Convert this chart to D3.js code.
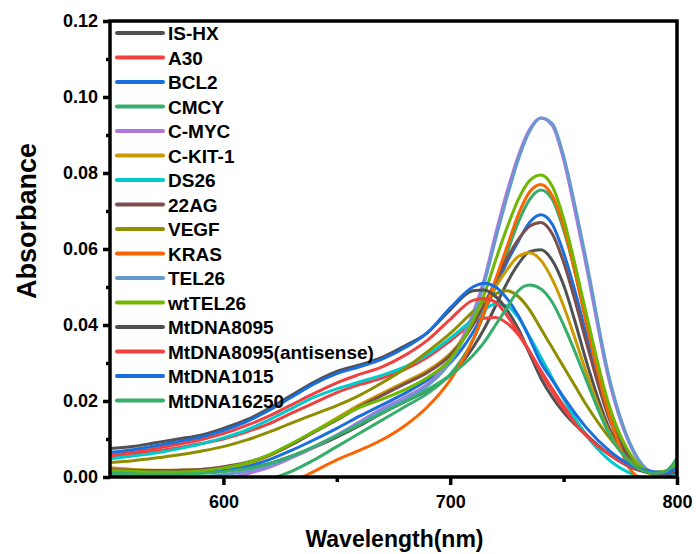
<!DOCTYPE html>
<html>
<head>
<meta charset="utf-8">
<script src="https://cdn.jsdelivr.net/npm/d3@7"></script>
<style>
  html, body { margin: 0; padding: 0; background: #fff; }
  svg { display: block; font-family: "Liberation Sans", Arial, sans-serif; font-weight: bold; }
</style>
</head>
<body>
<svg id="chart" width="696" height="554"></svg>
<script>
// ---- data ----
const wavelengths = [550,560,570,580,590,600,610,620,630,640,650,660,670,680,690,700,710,715,720,725,730,735,740,745,750,755,760,770,780,790,795,800];

const seriesNames = ["IS-HX","A30","BCL2","CMCY","C-MYC","C-KIT-1","DS26","22AG","VEGF","KRAS","TEL26","wtTEL26","MtDNA8095","MtDNA8095(antisense)","MtDNA1015","MtDNA16250"];

const IS_HX   = [.0020,.0015,.0012,.0011,.0012,.0016,.0023,.0035,.0055,.0078,.0105,.0135,.0168,.0198,.0228,.0268,.0340,.0390,.0450,.0510,.0560,.0593,.0598,.0570,.0505,.0410,.0305,.0130,.0040,.0010,.0010,.0022];
const A30     = [.0055,.0060,.0068,.0077,.0088,.0100,.0118,.0140,.0168,.0195,.0222,.0243,.0260,.0283,.0315,.0358,.0405,.0418,.0420,.0405,.0375,.0330,.0280,.0232,.0188,.0148,.0112,.0060,.0028,.0012,.0010,.0020];
const BCL2    = [.0015,.0012,.0010,.0010,.0012,.0018,.0028,.0045,.0070,.0098,.0128,.0160,.0190,.0220,.0255,.0300,.0380,.0435,.0500,.0565,.0620,.0670,.0690,.0665,.0590,.0490,.0375,.0165,.0050,.0012,.0015,.0040];
const CMCY    = [-.0060,-.0055,-.0050,-.0045,-.0040,-.0030,-.0020,-.0006,.0015,.0045,.0080,.0115,.0150,.0185,.0220,.0270,.0360,.0430,.0510,.0590,.0670,.0730,.0755,.0730,.0650,.0540,.0410,.0180,.0050,.0010,.0015,.0040];
const C_MYC   = [-.0040,-.0035,-.0030,-.0025,-.0015,-.0005,.0008,.0025,.0050,.0078,.0110,.0145,.0180,.0210,.0245,.0310,.0430,.0520,.0640,.0750,.0845,.0915,.0945,.0925,.0835,.0700,.0555,.0255,.0075,.0012,.0015,.0040];
const C_KIT_1 = [.0025,.0020,.0018,.0018,.0020,.0025,.0035,.0055,.0085,.0120,.0155,.0190,.0220,.0250,.0280,.0325,.0400,.0450,.0500,.0545,.0580,.0590,.0570,.0520,.0450,.0365,.0275,.0120,.0035,.0008,.0010,.0030];
const DS26    = [.0048,.0055,.0063,.0074,.0087,.0103,.0123,.0150,.0180,.0210,.0232,.0250,.0268,.0290,.0322,.0365,.0415,.0440,.0455,.0450,.0420,.0370,.0315,.0260,.0205,.0155,.0110,.0045,.0008,-.0010,-.0005,.0010];
const AG22    = [.0020,.0018,.0017,.0018,.0020,.0027,.0038,.0057,.0085,.0118,.0150,.0185,.0215,.0245,.0275,.0320,.0400,.0455,.0515,.0575,.0625,.0660,.0670,.0640,.0565,.0465,.0355,.0155,.0045,.0010,.0012,.0035];
const VEGF    = [.0038,.0043,.0050,.0058,.0068,.0080,.0097,.0118,.0142,.0165,.0188,.0215,.0248,.0285,.0330,.0378,.0435,.0462,.0482,.0490,.0475,.0440,.0390,.0340,.0290,.0240,.0190,.0105,.0040,.0012,.0010,.0020];
const KRAS    = [-.0120,-.0110,-.0100,-.0090,-.0075,-.0060,-.0045,-.0030,-.0013,.0015,.0045,.0070,.0098,.0135,.0185,.0255,.0360,.0435,.0520,.0605,.0690,.0750,.0770,.0740,.0660,.0540,.0405,.0165,.0015,-.0020,-.0020,-.0010];
const TEL26   = [.0005,.0000,-.0003,-.0003,.0000,.0006,.0015,.0030,.0052,.0080,.0110,.0142,.0175,.0205,.0240,.0302,.0420,.0510,.0625,.0735,.0835,.0910,.0945,.0930,.0845,.0715,.0570,.0265,.0080,.0013,.0015,.0035];
const wtTEL26 = [.0018,.0015,.0013,.0013,.0016,.0024,.0037,.0058,.0088,.0120,.0152,.0183,.0205,.0230,.0262,.0310,.0410,.0480,.0570,.0655,.0730,.0780,.0795,.0765,.0680,.0560,.0430,.0190,.0055,.0012,.0015,.0035];
const MtDNA8095   = [.0075,.0080,.0090,.0100,.0110,.0128,.0150,.0180,.0215,.0250,.0278,.0295,.0315,.0345,.0380,.0440,.0490,.0492,.0475,.0440,.0390,.0325,.0260,.0210,.0170,.0138,.0110,.0060,.0025,.0010,.0008,.0015];
const MtDNA8095as = [.0058,.0065,.0075,.0086,.0098,.0114,.0135,.0160,.0190,.0220,.0248,.0270,.0290,.0320,.0360,.0415,.0465,.0470,.0460,.0425,.0380,.0330,.0275,.0225,.0180,.0142,.0108,.0060,.0027,.0012,.0010,.0020];
const MtDNA1015   = [.0065,.0072,.0082,.0093,.0105,.0122,.0145,.0175,.0210,.0245,.0272,.0290,.0310,.0340,.0380,.0445,.0500,.0510,.0500,.0470,.0425,.0365,.0300,.0255,.0210,.0168,.0130,.0070,.0030,.0013,.0010,.0025];
const MtDNA16250  = [.0010,.0008,.0007,.0007,.0009,.0014,.0022,.0035,.0055,.0080,.0108,.0138,.0168,.0198,.0230,.0268,.0320,.0355,.0400,.0445,.0490,.0505,.0495,.0460,.0400,.0330,.0255,.0115,.0035,.0010,.0015,.0050];

const seriesValues = [IS_HX, A30, BCL2, CMCY, C_MYC, C_KIT_1, DS26, AG22, VEGF, KRAS, TEL26, wtTEL26, MtDNA8095, MtDNA8095as, MtDNA1015, MtDNA16250];

const seriesColors = ["#515151","#F14040","#1A6FDF","#37AD6B","#B177DE","#CC9900","#00CBCC","#7D4E4E","#8E8E00","#FB6501","#6699CC","#6FB802","#515151","#F14040","#1A6FDF","#37AD6B"];

const yMajorTicks = [0, 0.02, 0.04, 0.06, 0.08, 0.10, 0.12];
const yMinorTicks = [0.01, 0.03, 0.05, 0.07, 0.09, 0.11];
const xMajorTicks = [600, 700, 800];
const xMinorTicks = [650, 750];

// ---- layout ----
const W = 696, H = 554;
const m = { left: 110, right: 19, top: 21, bottom: 77 };
const pw = W - m.left - m.right, ph = H - m.top - m.bottom;

const svg = d3.select("#chart");
const g = svg.append("g").attr("transform", `translate(${m.left},${m.top})`);

const x = d3.scaleLinear().domain([550, 800]).range([0, pw]);
const y = d3.scaleLinear().domain([0, 0.12]).range([ph, 0]);

svg.append("defs").append("clipPath").attr("id", "clip")
  .append("rect").attr("x", 0).attr("y", 0).attr("width", pw).attr("height", ph);

// curves
const line = d3.line()
  .x((d, i) => x(wavelengths[i]))
  .y(d => y(d))
  .curve(d3.curveMonotoneX);

const curves = g.append("g").attr("clip-path", "url(#clip)");
seriesValues.forEach((vals, k) => {
  curves.append("path")
    .datum(vals)
    .attr("d", line)
    .attr("fill", "none")
    .attr("stroke", seriesColors[k])
    .attr("stroke-width", 3)
    .attr("stroke-linejoin", "round");
});

// axes
function styleAxis(sel, fontSize) {
  sel.select(".domain").remove();
  sel.selectAll(".tick line").attr("stroke", "#000").attr("stroke-width", 3.5);
  sel.selectAll(".tick text").attr("fill", "#000")
    .attr("font-size", fontSize).attr("font-weight", "bold")
    .attr("font-family", "'Liberation Sans', Arial, sans-serif");
}

const xAxis = g.append("g").attr("transform", `translate(0,${ph})`)
  .call(d3.axisBottom(x).tickValues(xMajorTicks).tickFormat(d3.format("d")).tickSize(8).tickPadding(10));
styleAxis(xAxis, 18);
const xMinor = g.append("g").attr("transform", `translate(0,${ph})`)
  .call(d3.axisBottom(x).tickValues(xMinorTicks).tickFormat("").tickSize(5));
styleAxis(xMinor, 18);

const yAxis = g.append("g")
  .call(d3.axisLeft(y).tickValues(yMajorTicks).tickFormat(d3.format(".2f")).tickSize(7).tickPadding(5));
styleAxis(yAxis, 18);
const yMinor = g.append("g")
  .call(d3.axisLeft(y).tickValues(yMinorTicks).tickFormat("").tickSize(4));
styleAxis(yMinor, 18);

// frame
g.append("rect").attr("x", 0).attr("y", 0).attr("width", pw).attr("height", ph)
  .attr("fill", "none").attr("stroke", "#000").attr("stroke-width", 3.5);

// axis titles
svg.append("text")
  .attr("x", m.left + pw / 2 + 1).attr("y", 547)
  .attr("text-anchor", "middle").attr("font-size", 23).attr("font-weight", "bold")
  .text("Wavelength(nm)");
svg.append("text")
  .attr("transform", `translate(36,221) rotate(-90)`)
  .attr("text-anchor", "middle").attr("font-size", 27).attr("font-weight", "bold")
  .text("Absorbance");

// legend
const legend = svg.append("g");
seriesNames.forEach((name, k) => {
  const cy = 33 + k * 24.5;
  legend.append("line")
    .attr("x1", 117).attr("x2", 163).attr("y1", cy).attr("y2", cy)
    .attr("stroke", seriesColors[k]).attr("stroke-width", 4).attr("stroke-linecap", "round");
  legend.append("text")
    .attr("x", 168).attr("y", cy + 7)
    .attr("font-size", 19).attr("font-weight", "bold").attr("fill", "#000")
    .text(name);
});
</script>
</body>
</html>
